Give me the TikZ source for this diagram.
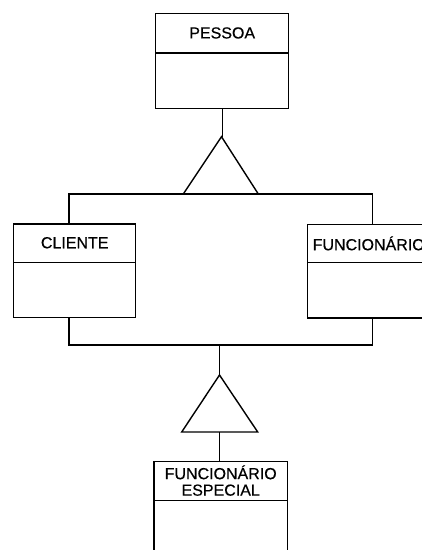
\documentclass[tikz,border=0pt]{standalone}
\usepackage{fontspec}
\setmainfont{Liberation Sans}
\newfontfamily\classfont{Liberation Sans}[AutoFakeBold=0.45]
\begin{document}
\begin{tikzpicture}[x=1pt, y=-1pt, line width=1.4pt,
  classbox/.style={draw, rectangle, inner sep=0pt},
  head/.style={rectangle, inner sep=0pt,
    font=\classfont\bfseries\fontsize{16}{16.5}\selectfont, align=center}]
  \useasboundingbox (0,0) rectangle (422,550);
  \clip (0,0) rectangle (422,550);

  % superclass
  \node[classbox, anchor=north west, minimum width=133pt, minimum height=95pt] (pessoa) at (155,13) {};
  \node[head, anchor=north, minimum width=133pt, minimum height=38.5pt] (pessoaH) at (pessoa.north) {PESSOA};
  \draw (pessoaH.south west) -- (pessoaH.south east);

  % first specialisation triangle
  \coordinate (t1apex) at (221.5,136.7);
  \coordinate (t1l) at (183.3,194);
  \coordinate (t1r) at (258.3,194);
  \draw[line join=miter] (t1apex) -- (t1l) -- (t1r) -- cycle;
  \draw (pessoa.south) -- (pessoa.south |- t1apex);

  % subclasses
  \node[classbox, anchor=north west, minimum width=122pt, minimum height=93.5pt] (cli) at (13,223.3) {};
  \node[head, anchor=north, minimum width=122pt, minimum height=37.5pt] (cliH) at (cli.north) {CLIENTE};
  \draw (cliH.south west) -- (cliH.south east);

  \node[classbox, anchor=north west, minimum width=134pt, minimum height=93.3pt] (fun) at (307,224) {};
  \node[head, anchor=north west, minimum height=37.3pt, text width=124pt,
    inner xsep=5pt, align=left] (funH) at (fun.north west) {FUNCIONÁRIO};
  \draw (funH.south west) -- (funH.south east);

  % upper bus
  \coordinate (busL) at (69,194);
  \coordinate (busR) at (372.7,194);
  \draw (cli.north -| busL) -- (busL) -- (busR) -- (fun.north -| busR);

  % lower bus
  \coordinate (bus2L) at (69,345);
  \coordinate (bus2R) at (372.7,345);
  \draw (cli.south -| bus2L) -- (bus2L) -- (bus2R) -- (fun.south -| bus2R);

  % second specialisation triangle
  \coordinate (t2apex) at (219.5,375);
  \coordinate (t2l) at (181.7,432);
  \coordinate (t2r) at (257.7,432);
  \coordinate (t2base) at (219.5,432);
  \draw[line join=miter] (t2apex) -- (t2l) -- (t2r) -- cycle;
  \draw (t2apex |- bus2L) -- (t2apex);

  % special employee class
  \node[classbox, anchor=north west, minimum width=133.4pt, minimum height=110pt] (esp) at (153.3,460.7) {};
  \node[head, anchor=north, minimum width=133.4pt, minimum height=38.3pt] (espH) at (esp.north) {FUNCIONÁRIO\\ESPECIAL};
  \draw (espH.south west) -- (espH.south east);
  \draw (t2base) -- (esp.north -| t2base);
\end{tikzpicture}
\end{document}
